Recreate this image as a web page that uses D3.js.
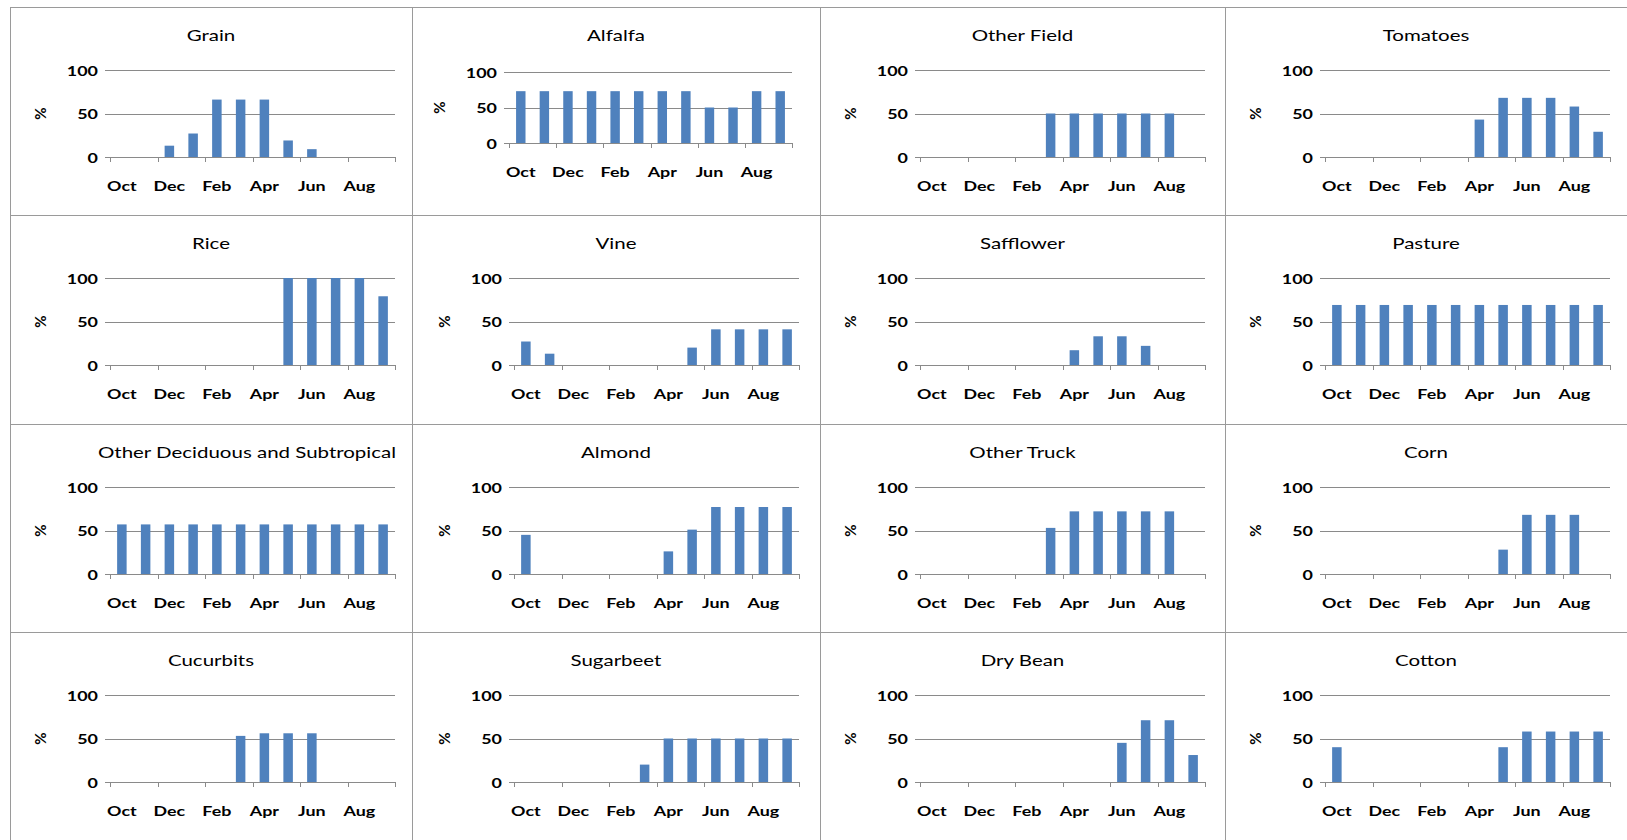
<!DOCTYPE html>
<html>
<head>
<meta charset="utf-8">
<script src="https://cdn.jsdelivr.net/npm/d3@7"></script>
<style>
  html, body { margin: 0; padding: 0; background: #ffffff; }
  svg { display: block; }
</style>
</head>
<body>
<svg id="chart" width="1627" height="840"></svg>
<script>
// ---------------- DATA ----------------
const months = ["Oct","Nov","Dec","Jan","Feb","Mar","Apr","May","Jun","Jul","Aug","Sep"];
const xTickLabels = ["Oct","Dec","Feb","Apr","Jun","Aug"];
const yTickValues = [0, 50, 100];
const yAxisLabel = "%";

const crops = [
  "Grain", "Alfalfa", "Other Field", "Tomatoes",
  "Rice", "Vine", "Safflower", "Pasture",
  "Other Deciduous and Subtropical", "Almond", "Other Truck", "Corn",
  "Cucurbits", "Sugarbeet", "Dry Bean", "Cotton"
];

const grain       = [0, 0, 13, 27, 66, 66, 66, 19, 9, 0, 0, 0];
const alfalfa     = [73, 73, 73, 73, 73, 73, 73, 73, 50, 50, 73, 73];
const otherField  = [0, 0, 0, 0, 0, 50, 50, 50, 50, 50, 50, 0];
const tomatoes    = [0, 0, 0, 0, 0, 0, 43, 68, 68, 68, 58, 29];
const rice        = [0, 0, 0, 0, 0, 0, 0, 100, 100, 100, 100, 79];
const vine        = [27, 13, 0, 0, 0, 0, 0, 20, 41, 41, 41, 41];
const safflower   = [0, 0, 0, 0, 0, 0, 17, 33, 33, 22, 0, 0];
const pasture     = [69, 69, 69, 69, 69, 69, 69, 69, 69, 69, 69, 69];
const otherDecid  = [57, 57, 57, 57, 57, 57, 57, 57, 57, 57, 57, 57];
const almond      = [45, 0, 0, 0, 0, 0, 26, 51, 77, 77, 77, 77];
const otherTruck  = [0, 0, 0, 0, 0, 53, 72, 72, 72, 72, 72, 0];
const corn        = [0, 0, 0, 0, 0, 0, 0, 28, 68, 68, 68, 0];
const cucurbits   = [0, 0, 0, 0, 0, 53, 56, 56, 56, 0, 0, 0];
const sugarbeet   = [0, 0, 0, 0, 0, 20, 50, 50, 50, 50, 50, 50];
const dryBean     = [0, 0, 0, 0, 0, 0, 0, 0, 45, 71, 71, 31];
const cotton      = [40, 0, 0, 0, 0, 0, 0, 40, 58, 58, 58, 58];

const seriesList = [
  grain, alfalfa, otherField, tomatoes,
  rice, vine, safflower, pasture,
  otherDecid, almond, otherTruck, corn,
  cucurbits, sugarbeet, dryBean, cotton
];

// ---------------- LAYOUT / STYLE ----------------
const W = 1627, H = 840;
const colLefts = [10, 412, 820, 1225];
const rowTops = [7, 215, 424, 632];
const BAR_COLOR = "#4F81BD";
const GRID_COLOR = "#8a8a8a";
const BORDER_COLOR = "#9a9a9a";
const FONT = "Lato, 'Open Sans', 'DejaVu Sans', sans-serif";
const SX = 1.28; // horizontal stretch of the source image text

const svg = d3.select("#chart");

function sText(g, x, y, str, opts) {
  const t = g.append("text")
    .attr("transform", `translate(${x},${y}) scale(${SX},1)`)
    .attr("text-anchor", opts.anchor || "middle")
    .attr("font-family", FONT)
    .attr("font-size", opts.size)
    .attr("font-weight", opts.weight || "normal")
    .attr("fill", opts.fill || "#000")
    .text(str);
  if (opts.baseline) t.attr("dominant-baseline", opts.baseline);
  return t;
}

// cell borders
const borders = svg.append("g");
colLefts.forEach(x => {
  borders.append("line").attr("x1", x + 0.5).attr("x2", x + 0.5)
    .attr("y1", rowTops[0]).attr("y2", H)
    .attr("stroke", BORDER_COLOR).attr("stroke-width", 1);
});
rowTops.forEach(y => {
  borders.append("line").attr("x1", colLefts[0]).attr("x2", W)
    .attr("y1", y + 0.5).attr("y2", y + 0.5)
    .attr("stroke", BORDER_COLOR).attr("stroke-width", 1);
});

crops.forEach((name, i) => {
  const r = Math.floor(i / 4), c = i % 4;
  const cellLeft = colLefts[c];
  const cellRight = c < 3 ? colLefts[c + 1] : W;
  const cellTop = rowTops[r];
  const cellCenter = (cellLeft + cellRight) / 2;

  // plot area
  let pl = cellLeft + 100, pw = 285, pt = cellTop + 63, ph = 87;
  if (name === "Alfalfa") { pl = cellLeft + 97; pw = 283; pt = cellTop + 65; ph = 71; }
  if (c === 1 && name !== "Alfalfa") { pl = cellLeft + 102; pw = 285; }
  const pr = pl + pw, pb = pt + ph;

  const g = svg.append("g");
  const values = seriesList[i];

  const x = d3.scaleBand().domain(months).range([pl, pr])
    .paddingInner(0.6).paddingOuter(0.3);
  const y = d3.scaleLinear().domain([0, 100]).range([pb, pt]);
  const step = x.step();

  // gridlines + y ticks (tick marks extend left of plot)
  yTickValues.forEach(v => {
    const yy = Math.round(y(v)) + 0.5;
    g.append("line").attr("x1", pl - 5).attr("x2", pr)
      .attr("y1", yy).attr("y2", yy)
      .attr("stroke", GRID_COLOR).attr("stroke-width", 1);
    sText(g, pl - 12, y(v), String(v), { anchor: "end", size: 14, weight: "bold", baseline: "central" });
  });

  // x tick marks every 2 categories
  for (let k = 0; k <= months.length; k += 2) {
    const xx = Math.round(pl + k * step) + 0.5;
    g.append("line").attr("x1", xx).attr("x2", xx)
      .attr("y1", pb).attr("y2", pb + 5)
      .attr("stroke", GRID_COLOR).attr("stroke-width", 1);
  }

  // bars
  g.selectAll("rect.bar").data(months.map((m, j) => ({ m, v: values[j] })).filter(d => d.v > 0))
    .enter().append("rect").attr("class", "bar")
    .attr("x", d => x(d.m))
    .attr("width", x.bandwidth())
    .attr("y", d => y(d.v))
    .attr("height", d => y(0) - y(d.v))
    .attr("fill", BAR_COLOR);

  // x labels
  xTickLabels.forEach(m => {
    sText(g, x(m) + x.bandwidth() / 2, pb + 34, m, { anchor: "middle", size: 14, weight: "bold" });
  });

  // y axis label
  g.append("text")
    .attr("transform", `translate(${pl - 64},${(pt + pb) / 2}) rotate(-90)`)
    .attr("text-anchor", "middle")
    .attr("font-family", FONT)
    .attr("font-size", 15)
    .attr("font-weight", "bold")
    .attr("fill", "#000")
    .text(yAxisLabel);

  // title
  if (name === "Other Deciduous and Subtropical") {
    sText(g, pr + 1, cellTop + 34, name, { anchor: "end", size: 16 });
  } else {
    sText(g, cellCenter, cellTop + 34, name, { anchor: "middle", size: 16 });
  }
});
</script>
</body>
</html>
